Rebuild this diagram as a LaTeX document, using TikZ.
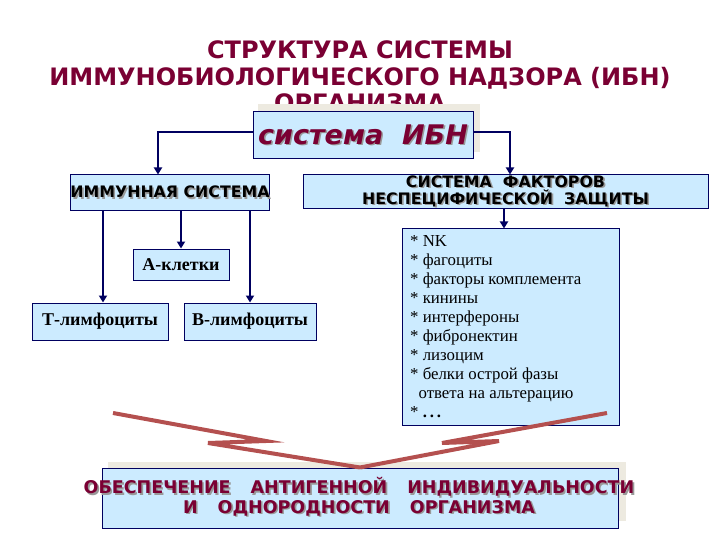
\documentclass[tikz,border=0pt]{standalone}
\usepackage{fontspec}
\setmainfont{Liberation Serif}
\setsansfont{DejaVu Sans}
\usepackage{xcolor}
\usetikzlibrary{arrows.meta, calc}

\definecolor{ibnred}{HTML}{7A0033}
\definecolor{boxblue}{HTML}{CCEBFF}
\definecolor{navy}{HTML}{000060}
\definecolor{zigred}{HTML}{B4504F}
\definecolor{panel}{HTML}{EDEAE0}

% text with a grey drop shadow
\newcommand{\shd}[2]{\makebox[0pt][l]{\hspace{1.6pt}\raisebox{-1.6pt}{\color{black!40}#2}}{\color{#1}#2}}

\begin{document}
\begin{tikzpicture}[x=1pt, y=-1pt,
  box/.style={draw=navy, line width=1pt, fill=boxblue, inner sep=0pt},
  capfont/.style={font=\sffamily\bfseries\fontsize{15.8}{17}\selectfont},
  cellfont/.style={font=\bfseries\fontsize{18}{19}\selectfont},
  conn/.style={draw=navy, line width=2.8pt, -{Triangle[length=7pt,width=8pt]}},
  zig/.style={draw=zigred, line width=4pt}]
  \useasboundingbox (0,0) rectangle (720,540);

  % Title (its last line hides behind the box)
  \node[align=center, text=ibnred, font=\sffamily\bfseries\fontsize{24}{26.5}\selectfont]
    (ttl) at (360,76.5) {СТРУКТУРА СИСТЕМЫ\\ИММУНОБИОЛОГИЧЕСКОГО НАДЗОРА (ИБН)\\ОРГАНИЗМА};

  % Top box
  \fill[panel] (258,104) rectangle (480,152);
  \node[box, minimum width=220pt, minimum height=47pt, font=\sffamily\bfseries\itshape\fontsize{27}{30}\selectfont]
    (ibn) at (363,135.5) {\shd{ibnred}{система\ \ ИБН}};

  % Second level
  \node[box, minimum width=186pt, minimum height=36pt, capfont]
    (imm) at (170,193) {\shd{black}{ИММУННАЯ СИСТЕМА}};
  \node[box, minimum width=405pt, minimum height=34pt, capfont, align=center]
    (nsp) at (505.5,192) {\shd{black}{СИСТЕМА\ \ ФАКТОРОВ}\\\shd{black}{НЕСПЕЦИФИЧЕСКОЙ\ \ ЗАЩИТЫ}};

  % Immune cells
  \node[box, minimum width=96pt, minimum height=31pt, cellfont] (acl) at (181,264.5) {А-клетки};
  \node[box, minimum width=136pt, minimum height=37pt, cellfont] (tly) at (100,321.5) {Т-лимфоциты};
  \node[box, minimum width=132pt, minimum height=37pt, cellfont] (bly) at (250,321.5) {В-лимфоциты};

  % Nonspecific factors
  \node[box, minimum width=217pt, minimum height=196pt] (lst) at (510.5,327) {};
  \node[anchor=north west, inner sep=0pt, align=left, font=\fontsize{16.8}{19}\selectfont]
    (items) at (410,235) {* NK\\* фагоциты\\* факторы комплемента\\* кинины\\* интерфероны\\* фибронектин\\* лизоцим\\* белки острой фазы\\\ \ ответа на альтерацию\\* \textbf{.\,.\,.}};

  % Connectors
  \coordinate (lk) at (158,132);
  \coordinate (rk) at (510,132);
  \draw[conn] (ibn.west |- lk) -- (lk) -- (lk |- imm.north);
  \draw[conn] (ibn.east |- rk) -- (rk) -- (rk |- nsp.north);
  \draw[conn] (nsp.south -| 504,0) -- (lst.north -| 504,0);
  \draw[conn] (imm.south -| 103,0) -- (tly.north -| 103,0);
  \draw[conn] (imm.south -| acl.north) -- (acl.north);
  \draw[conn] (imm.south -| bly.north) -- (bly.north);

  % Result box
  \fill[panel] (108,462) rectangle (626,521);
  \node[box, minimum width=516pt, minimum height=60pt] (fin) at (360,498) {};
  \node[align=center, font=\sffamily\bfseries\fontsize{17.5}{19.5}\selectfont]
    (fintxt) at (359,497.5) {\shd{ibnred}{ОБЕСПЕЧЕНИЕ\hspace{20pt}АНТИГЕННОЙ\hspace{20pt}ИНДИВИДУАЛЬНОСТИ}\\\shd{ibnred}{И\hspace{20pt}ОДНОРОДНОСТИ\hspace{20pt}ОРГАНИЗМА}};

  % Zigzag arrows into the result
  \coordinate (zl) at (113,413);
  \coordinate (zr) at (607,413);
  \draw[zig] (zl) -- (266,441) -- (208,443) -- (fin.north);
  \draw[zig] (zr) -- (442,443) -- (499,441) -- (fin.north);
\end{tikzpicture}
\end{document}
